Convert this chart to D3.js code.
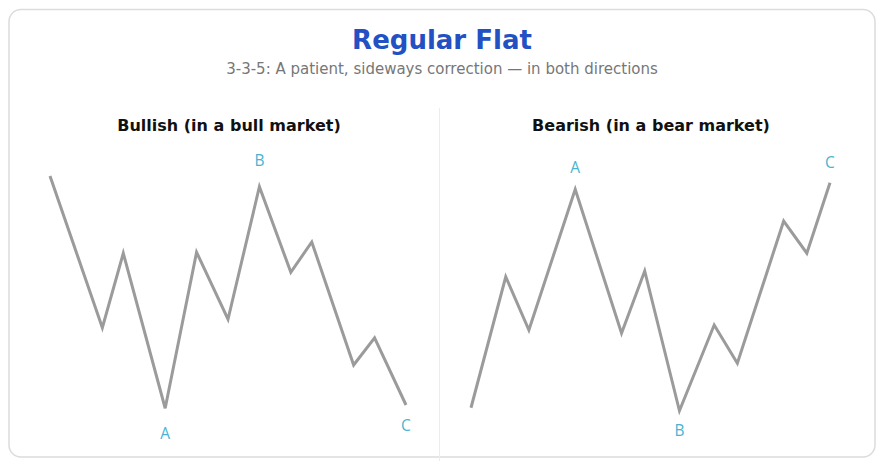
<!DOCTYPE html>
<html>
<head>
<meta charset="utf-8">
<script src="https://cdn.jsdelivr.net/npm/d3@7"></script>
<style>
  body { margin: 0; background: #fff; font-family: "DejaVu Sans", sans-serif; }
</style>
</head>
<body>
<script>
// wave steps (x) and price levels (y) for each panel
var bullX = [0, 5, 7, 11, 14, 17, 20, 23, 25, 29, 31, 34];
var bullY = [97.6, 36.9, 66.7, 4.7, 67.1, 40.3, 93.3, 59.1, 71.2, 22, 32.9, 6];
var bearX = [0, 3, 5, 9, 13, 15, 18, 21, 23, 27, 29, 31];
var bearY = [4.9, 57.3, 36, 92.3, 34.7, 59.6, 3.7, 38, 22.7, 79.6, 66.7, 94.9];
var waveLabels = ["A", "B", "C"];
var labelIdx = [3, 6, 11];
var panelTitles = ["Bullish (in a bull market)", "Bearish (in a bear market)"];

var larg = 884, haut = 466;

var svg = d3.select("body")
  .append("svg")
  .attr("width", larg)
  .attr("height", haut);

// carte
svg.append("rect")
  .attr("x", 9).attr("y", 9.5)
  .attr("width", 866).attr("height", 447.5)
  .attr("rx", 12)
  .attr("fill", "#fff")
  .attr("stroke", "#dcdcdc")
  .attr("stroke-width", 1.5);

svg.append("text")
  .attr("x", 442).attr("y", 49)
  .attr("text-anchor", "middle")
  .attr("font-size", 26).attr("font-weight", "bold")
  .attr("fill", "#2350c2")
  .text("Regular Flat");

svg.append("text")
  .attr("x", 442).attr("y", 74)
  .attr("text-anchor", "middle")
  .attr("font-size", 15)
  .attr("fill", "#777")
  .text("3-3-5: A patient, sideways correction \u2014 in both directions");

// séparateur
svg.append("line")
  .attr("x1", 439.5).attr("x2", 439.5)
  .attr("y1", 108).attr("y2", 461)
  .attr("stroke", "#ececec").attr("stroke-width", 1);

var y = d3.scaleLinear().domain([0, 100]).range([420, 170]);

function panel(xs, ys, title, cx, xRange, offsets) {
  var x = d3.scaleLinear().domain([0, d3.max(xs)]).range(xRange);
  var data = xs.map(function(d, i) { return [d, ys[i]]; });

  svg.append("text")
    .attr("x", cx).attr("y", 131)
    .attr("text-anchor", "middle")
    .attr("font-size", 16).attr("font-weight", "bold")
    .attr("fill", "#111")
    .text(title);

  svg.append("path")
    .datum(data)
    .attr("fill", "none")
    .attr("stroke", "#9b9b9b")
    .attr("stroke-width", 3)
    .attr("d", d3.line()
      .x(function(d) { return x(d[0]); })
      .y(function(d) { return y(d[1]); }));

  // étiquettes A B C : au-dessus des sommets, en dessous des creux
  svg.selectAll(null)
    .data(labelIdx)
    .enter()
    .append("text")
    .attr("x", function(d) { return x(xs[d]); })
    .attr("y", function(d, i) { return y(ys[d]) + offsets[i] + 5.5; })
    .attr("text-anchor", "middle")
    .attr("font-family", "'Open Sans', sans-serif")
    .attr("font-size", 15.5)
    .attr("fill", "#4bb3cf")
    .text(function(d, i) { return waveLabels[i]; });
}

panel(bullX, bullY, panelTitles[0], 229, [50, 406], [25, -26, 20]);
panel(bearX, bearY, panelTitles[1], 651, [471, 830], [-22, 20, -20]);
</script>
</body>
</html>
